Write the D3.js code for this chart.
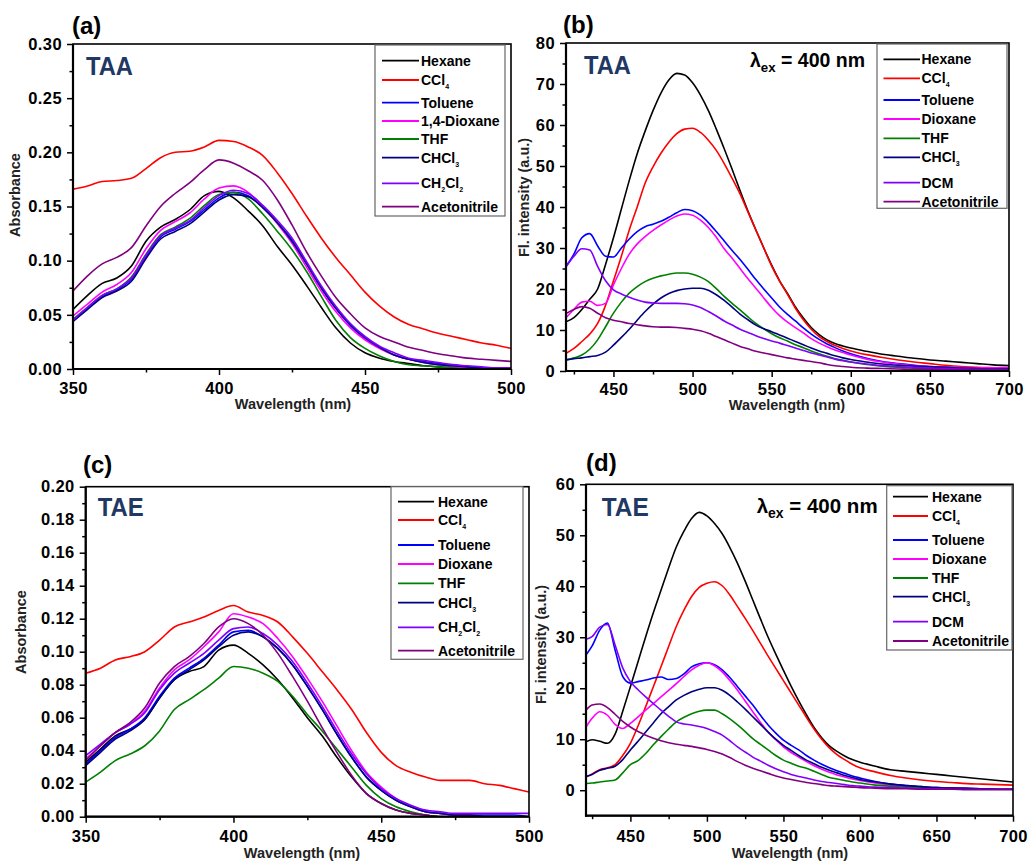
<!DOCTYPE html>
<html><head><meta charset="utf-8">
<script src="https://cdn.jsdelivr.net/npm/d3@7"></script>
<style>
body{margin:0;background:#fff;}
svg{display:block;font-family:"Liberation Sans",Arial,sans-serif;}
</style></head><body>
<svg id="chart" width="1030" height="863"></svg>
<script>
// ---------------- DATA ----------------
const wlAbs = [350,355,360,365,370,375,380,385,390,395,400,405,410,415,420,425,430,435,440,445,450,455,460,465,470,475,480,485,490,495,500];

const a_hexane  = [0.055,0.068,0.079,0.084,0.095,0.118,0.131,0.138,0.147,0.160,0.164,0.158,0.146,0.132,0.113,0.096,0.077,0.057,0.038,0.024,0.015,0.010,0.007,0.005,0.003,0.002,0.001,0.000,0.000,0.000,0.000];
const a_ccl4    = [0.166,0.169,0.173,0.174,0.176,0.185,0.195,0.200,0.201,0.205,0.211,0.210,0.205,0.197,0.181,0.162,0.141,0.121,0.103,0.087,0.071,0.058,0.048,0.041,0.037,0.033,0.030,0.027,0.024,0.022,0.019];
const a_toluene = [0.044,0.056,0.067,0.073,0.083,0.104,0.122,0.129,0.136,0.147,0.158,0.163,0.160,0.149,0.135,0.119,0.097,0.075,0.056,0.040,0.028,0.020,0.013,0.009,0.007,0.005,0.003,0.002,0.001,0.001,0.000];
const a_dioxane = [0.049,0.060,0.071,0.078,0.089,0.111,0.128,0.136,0.144,0.157,0.167,0.169,0.163,0.150,0.134,0.116,0.094,0.072,0.053,0.038,0.027,0.019,0.013,0.009,0.006,0.004,0.002,0.001,0.000,0.000,0.000];
const a_thf     = [0.046,0.057,0.068,0.074,0.085,0.106,0.124,0.131,0.139,0.151,0.161,0.163,0.157,0.143,0.127,0.110,0.090,0.067,0.045,0.029,0.019,0.012,0.007,0.004,0.003,0.002,0.001,0.000,0.000,0.000,0.000];
const a_chcl3   = [0.044,0.055,0.066,0.072,0.081,0.102,0.120,0.127,0.134,0.145,0.156,0.161,0.159,0.149,0.135,0.118,0.097,0.075,0.056,0.041,0.029,0.020,0.013,0.009,0.006,0.004,0.003,0.002,0.001,0.000,0.000];
const a_ch2cl2  = [0.045,0.057,0.068,0.074,0.084,0.105,0.123,0.130,0.137,0.149,0.160,0.165,0.162,0.151,0.137,0.121,0.099,0.077,0.058,0.042,0.030,0.021,0.015,0.010,0.008,0.006,0.004,0.003,0.002,0.001,0.001];
const a_acn     = [0.072,0.086,0.097,0.103,0.112,0.132,0.150,0.162,0.172,0.184,0.193,0.190,0.183,0.174,0.156,0.133,0.108,0.086,0.066,0.051,0.038,0.030,0.025,0.020,0.017,0.014,0.012,0.010,0.009,0.008,0.007];

const c_hexane  = [0.033,0.041,0.049,0.053,0.059,0.072,0.083,0.088,0.091,0.101,0.104,0.099,0.092,0.083,0.072,0.060,0.049,0.036,0.024,0.014,0.008,0.004,0.002,0.001,0.000,0.000,0.000,0.000,0.000,0.000,0.000];
const c_ccl4    = [0.087,0.090,0.095,0.097,0.100,0.107,0.115,0.118,0.121,0.125,0.128,0.124,0.122,0.118,0.109,0.099,0.088,0.077,0.065,0.051,0.039,0.031,0.027,0.024,0.022,0.022,0.022,0.020,0.019,0.017,0.015];
const c_toluene = [0.032,0.040,0.048,0.053,0.060,0.073,0.084,0.090,0.096,0.104,0.112,0.113,0.109,0.102,0.092,0.079,0.065,0.050,0.036,0.024,0.016,0.010,0.006,0.003,0.002,0.001,0.001,0.001,0.001,0.001,0.000];
const c_dioxane = [0.035,0.043,0.051,0.056,0.064,0.078,0.089,0.095,0.103,0.112,0.123,0.121,0.117,0.108,0.097,0.084,0.070,0.055,0.040,0.027,0.018,0.011,0.006,0.003,0.002,0.001,0.001,0.000,0.000,0.000,0.000];
const c_thf     = [0.021,0.027,0.034,0.038,0.043,0.052,0.065,0.071,0.077,0.084,0.091,0.090,0.087,0.082,0.073,0.062,0.052,0.041,0.030,0.019,0.011,0.006,0.003,0.001,0.000,0.000,0.000,0.000,0.000,0.000,0.000];
const c_chcl3   = [0.031,0.039,0.047,0.052,0.059,0.072,0.083,0.089,0.095,0.103,0.110,0.112,0.109,0.102,0.092,0.079,0.065,0.050,0.036,0.024,0.016,0.010,0.006,0.003,0.002,0.001,0.001,0.000,0.000,0.000,0.000];
const c_ch2cl2  = [0.037,0.044,0.051,0.056,0.063,0.077,0.087,0.093,0.099,0.107,0.114,0.115,0.111,0.104,0.094,0.081,0.067,0.052,0.038,0.026,0.017,0.011,0.007,0.004,0.003,0.002,0.002,0.002,0.002,0.002,0.002];
const c_acn     = [0.034,0.043,0.051,0.057,0.066,0.081,0.091,0.097,0.105,0.115,0.120,0.117,0.110,0.099,0.085,0.070,0.054,0.039,0.025,0.014,0.008,0.004,0.002,0.001,0.000,0.000,0.000,0.000,0.000,0.000,0.000];

const wlFlB = [420,425,430,435,440,445,450,455,460,465,470,475,480,485,490,495,500,505,510,515,520,525,530,535,540,545,550,555,560,565,570,575,580,585,590,595,600,610,620,630,640,650,660,670,680,690,700];
const b_hexane  = [12,13,15,17.5,20,26,32.5,39.5,46.5,53,58.5,63.5,67.8,71,72.6,72.2,70.3,67.3,63.5,59,54.2,49.2,44,39,34.4,30,25.8,22,18.9,15.6,12.9,10.6,8.9,7.6,6.7,6.1,5.6,4.8,4.1,3.6,3.1,2.7,2.4,2.1,1.8,1.5,1.3];
const b_ccl4    = [4.3,5.5,7.2,9,11.6,16,22,28,34.4,40,45.8,49.8,53.1,55.8,57.9,59,59.2,58.2,56.3,53.8,50.6,47,43.2,38.8,34.4,30,25.6,21.9,18.7,15.3,12.5,10.2,8.4,7.2,6.2,5.5,4.9,4.0,3.3,2.7,2.2,1.8,1.4,1.1,0.9,0.8,0.7];
const b_toluene = [25.5,28.5,32.5,33.5,30.5,28,27.8,30,32.2,34,35.2,35.8,36.5,37.5,38.6,39.4,39.1,38,36.2,34,31.7,29.4,27.2,24.8,22.3,20,17.8,15.6,13.8,12.2,10.5,9.0,7.7,6.6,5.7,4.9,4.2,3.1,2.3,1.8,1.4,1.1,0.9,0.7,0.6,0.5,0.5];
const b_dioxane = [13,15,16.8,17,16,16.5,21,25,28.5,31,32.8,34.3,35.6,36.8,37.8,38.3,38,36.8,35,32.6,29.8,27.5,25,22.5,20.2,17.8,15.5,13.5,11.9,10.6,9.3,7.9,6.8,5.9,5.1,4.5,3.9,2.9,2.2,1.7,1.3,1.1,1.0,0.9,0.8,0.8,0.8];
const b_thf     = [2.7,3.2,3.9,5.3,7.6,10.8,14.1,16.8,19,20.6,21.8,22.6,23.2,23.6,23.9,23.9,23.6,22.9,21.8,20.1,18.2,16.5,14.9,13.2,11.6,10.3,9.1,8.1,7.3,6.4,5.7,4.9,4.2,3.6,3.0,2.6,2.2,1.6,1.2,0.9,0.7,0.6,0.5,0.4,0.4,0.3,0.3];
const b_chcl3   = [2.7,3.0,3.2,3.5,3.8,4.6,6.3,8.2,10.2,12.4,14.5,16.3,17.8,18.9,19.6,20.0,20.2,20.2,19.7,18.6,17.2,15.6,13.9,12.5,11.2,10.3,9.6,8.8,8.0,7.2,6.4,5.6,4.9,4.3,3.7,3.2,2.8,2.2,1.7,1.4,1.2,1.0,0.9,0.7,0.6,0.5,0.5];
const b_dcm     = [25.4,28,29.8,29.5,25.5,22,19.8,18.8,18,17.3,16.8,16.6,16.5,16.5,16.5,16.4,16.1,15.5,14.5,13.4,12.2,11.2,10.2,9.4,8.6,7.9,7.3,6.8,6.2,5.6,5.0,4.4,3.9,3.4,2.9,2.5,2.2,1.7,1.3,1.1,0.9,0.7,0.6,0.5,0.4,0.4,0.3];
const b_acn     = [14,15,15.7,15.3,14.1,13,12.4,12,11.6,11.3,11,10.8,10.7,10.7,10.6,10.4,10.2,9.8,9.2,8.4,7.6,6.8,6.0,5.4,4.8,4.4,4.0,3.6,3.2,2.9,2.6,2.3,2.0,1.6,1.3,1.1,0.9,0.7,0.6,0.5,0.4,0.4,0.3,0.3,0.3,0.3,0.3];

const wlFlD = [421,425,430,435,440,445,450,455,460,465,470,475,480,485,490,495,500,505,510,515,520,525,530,535,540,545,550,555,560,565,570,575,580,585,590,595,600,610,620,630,640,650,660,670,680,690,700];
const d_hexane  = [9.5,9.9,9.6,9.2,11,15.5,20.3,25.2,30.1,34.8,39.2,43.6,47.7,50.8,53.3,54.5,53.8,52.3,50.3,47.6,44.5,41,37.3,33.6,30,26.7,23.5,20.4,17.5,14.8,12.3,10.3,8.7,7.6,6.7,6.0,5.5,4.7,4.0,3.7,3.4,3.1,2.8,2.5,2.2,1.9,1.6];
const d_ccl4    = [2.6,3.2,4.0,4.4,5.0,6.8,9.2,12.6,16.4,20.3,24.2,28.2,32.1,35.3,38,39.8,40.6,40.9,40.1,38.3,36,33.7,31.3,28.8,26.3,23.9,21.5,19.1,16.7,14.3,12.0,10.0,8.3,7.0,6.0,5.1,4.4,3.6,2.9,2.4,2.0,1.7,1.5,1.3,1.2,1.1,1.0];
const d_toluene = [26.5,28.3,31.4,32.8,27.5,22.3,21,21.3,21.6,22,22.2,21.7,21.9,22.8,24.2,24.8,25,24.6,23.6,22.1,20.3,18.5,16.7,14.7,12.8,11.2,9.8,8.8,7.9,6.8,5.9,5.1,4.4,3.8,3.3,2.8,2.4,1.7,1.2,0.9,0.7,0.5,0.4,0.3,0.3,0.3,0.3];
const d_dioxane = [12.4,14.1,15.4,14.7,12.9,12.1,13.1,14.4,15.7,17,18.3,19.6,20.9,22.3,23.6,24.5,25,24.4,23.2,21.5,19.6,17.5,15.4,13.3,11.4,9.9,8.5,7.4,6.5,5.6,4.8,4.1,3.5,3.0,2.6,2.2,1.9,1.4,1.0,0.8,0.6,0.5,0.4,0.3,0.3,0.3,0.3];
const d_thf     = [1.3,1.4,1.6,1.8,2.0,3.4,5.0,5.8,7.2,8.9,10.5,12.0,13.4,14.3,15.0,15.5,15.7,15.7,15.0,14.0,12.8,11.5,10.1,9.0,7.9,6.8,5.9,5.3,4.7,4.3,3.7,3.1,2.5,2.2,1.9,1.6,1.4,1.0,0.8,0.6,0.5,0.4,0.3,0.3,0.2,0.2,0.2];
const d_chcl3   = [2.7,3.1,3.9,4.3,4.7,6.0,7.9,9.6,11.4,13.2,15.0,16.4,17.7,18.6,19.3,19.8,20.1,20.1,19.6,18.6,17.3,15.9,14.4,12.9,11.4,10.0,8.8,7.8,6.8,5.9,5.2,4.5,3.9,3.4,2.9,2.5,2.1,1.6,1.2,0.9,0.7,0.5,0.4,0.4,0.3,0.2,0.2];
const d_dcm     = [29.6,30.1,32,32.5,28.5,24,21.3,19.7,18.3,17,15.7,14.5,13.4,13.0,12.8,12.5,12.1,11.5,10.8,9.7,8.5,7.5,6.5,5.7,4.9,4.2,3.6,3.1,2.7,2.4,2.0,1.7,1.5,1.3,1.1,0.9,0.8,0.6,0.5,0.4,0.3,0.3,0.2,0.2,0.2,0.2,0.2];
const d_acn     = [15.7,16.7,16.9,16.2,14.9,13.5,12.4,11.5,10.8,10.2,9.7,9.3,9.0,8.8,8.6,8.3,8.0,7.6,7.1,6.4,5.6,4.9,4.3,3.8,3.3,2.8,2.4,2.1,1.8,1.5,1.3,1.1,0.9,0.8,0.7,0.6,0.5,0.4,0.3,0.3,0.2,0.2,0.2,0.1,0.1,0.1,0.1];

const labelsA = ["Hexane","CCl_4","Toluene","1,4-Dioxane","THF","CHCl_3","CH_2Cl_2","Acetonitrile"];
const labelsC = ["Hexane","CCl_4","Toluene","Dioxane","THF","CHCl_3","CH_2Cl_2","Acetonitrile"];
const labelsFl = ["Hexane","CCl_4","Toluene","Dioxane","THF","CHCl_3","DCM","Acetonitrile"];

const absXTicks = [350,400,450,500], absXMinor = [375,425,475];
const aYTicks = [0,0.05,0.10,0.15,0.20,0.25,0.30], aYMinor = [0.025,0.075,0.125,0.175,0.225,0.275];
const cYTicks = [0,0.02,0.04,0.06,0.08,0.10,0.12,0.14,0.16,0.18,0.20];
const cYMinor = [0.01,0.03,0.05,0.07,0.09,0.11,0.13,0.15,0.17,0.19];
const flXTicks = [450,500,550,600,650,700], flXMinor = [425,475,525,575,625,675];
const bYTicks = [0,10,20,30,40,50,60,70,80], bYMinor = [5,15,25,35,45,55,65,75];
const dYTicks = [0,10,20,30,40,50,60], dYMinor = [5,15,25,35,45,55];

// ---------------- DRAW ----------------
const colors = ["#000000","#ff0000","#0000ff","#ff00ff","#008000","#000080","#8000ff","#800080"];
const svg = d3.select("#chart");
const NAVY = "#1f3864";

function addLabel(textSel, label, subSize, subDy){
  const parts = label.split(/_(\d)/);
  let prevSub = false;
  parts.forEach((p,i)=>{
    if(p==="") return;
    const isSub = i%2===1;
    const t = textSel.append("tspan").text(p);
    if(isSub){ t.attr("font-size",subSize).attr("dy",subDy); prevSub=true; }
    else { if(prevSub){ t.attr("dy",-subDy); } prevSub=false; }
  });
}

function panel(cfg, idx){
  const g = svg.append("g");
  const x = d3.scaleLinear().domain(cfg.xDom).range([cfg.left,cfg.right]);
  const y = d3.scaleLinear().domain(cfg.yDom).range([cfg.bottom,cfg.top]);
  const clipId = "clip"+idx;
  svg.append("clipPath").attr("id",clipId).append("rect")
    .attr("x",cfg.left).attr("y",cfg.top).attr("width",cfg.right-cfg.left).attr("height",cfg.bottom-cfg.top);

  const line = d3.line().x((d,i)=>x(cfg.wl[i])).y(d=>y(d)).curve(d3.curveMonotoneX);
  const lg = g.append("g").attr("clip-path",`url(#${clipId})`);
  cfg.series.forEach((s,i)=>{
    lg.append("path").attr("d",line(s)).attr("fill","none")
      .attr("stroke",colors[i]).attr("stroke-width",1.6).attr("stroke-linejoin","round");
  });

  const ax = g.append("g").attr("transform",`translate(0,${cfg.bottom})`)
    .call(d3.axisBottom(x).tickValues(cfg.xTicks).tickSize(6).tickPadding(cfg.xPad).tickFormat(d3.format("d")));
  const axm = g.append("g").attr("transform",`translate(0,${cfg.bottom})`)
    .call(d3.axisBottom(x).tickValues(cfg.xMinor).tickSize(3.5).tickFormat(""));
  const ay = g.append("g").attr("transform",`translate(${cfg.left},0)`)
    .call(d3.axisLeft(y).tickValues(cfg.yTicks).tickSize(6).tickPadding(5).tickFormat(d3.format(cfg.fmt)));
  const aym = g.append("g").attr("transform",`translate(${cfg.left},0)`)
    .call(d3.axisLeft(y).tickValues(cfg.yMinor).tickSize(3.5).tickFormat(""));
  [ax,axm,ay,aym].forEach(a=>{
    a.select(".domain").remove();
    a.selectAll("line").attr("stroke","#000").attr("stroke-width",1.5);
    a.selectAll("text").attr("font-size",16.5).attr("font-weight","bold").attr("fill","#000")
      .attr("font-family","'Liberation Sans',Arial,sans-serif").attr("letter-spacing","0.4px");
  });

  g.append("rect").attr("x",cfg.left).attr("y",cfg.top).attr("width",cfg.right-cfg.left).attr("height",cfg.bottom-cfg.top)
    .attr("fill","none").attr("stroke","#000").attr("stroke-width",1.6);
  g.append("line").attr("x1",cfg.left).attr("x2",cfg.left).attr("y1",cfg.top).attr("y2",cfg.bottom+1)
    .attr("stroke","#000").attr("stroke-width",2.2);
  g.append("line").attr("x1",cfg.left-1).attr("x2",cfg.right).attr("y1",cfg.bottom).attr("y2",cfg.bottom)
    .attr("stroke","#000").attr("stroke-width",2.2);

  g.append("text").attr("x",cfg.xTitle[0]).attr("y",cfg.xTitle[1]).attr("text-anchor","middle")
    .attr("font-size",14.5).attr("font-weight","bold").attr("fill","#222").text("Wavelength (nm)");
  g.append("text").attr("transform",`translate(${cfg.yTitle[0]},${cfg.yTitle[1]}) rotate(-90)`).attr("text-anchor","middle")
    .attr("font-size",14.5).attr("font-weight","bold").attr("fill","#222").text(cfg.yTitleText);

  g.append("text").attr("x",cfg.letter[0]).attr("y",cfg.letter[1]).attr("font-size",24).attr("font-weight","bold")
    .attr("fill","#000").text(cfg.letterText);
  g.append("text").attr("x",cfg.sample[0]).attr("y",cfg.sample[1]).attr("font-size",25).attr("font-weight","bold")
    .attr("fill",NAVY).attr("textLength",cfg.sample[2]).attr("lengthAdjust","spacingAndGlyphs").text(cfg.sampleText);
  if(cfg.lambda){
    const t = g.append("text").attr("x",cfg.lambda[0]).attr("y",cfg.lambda[1]).attr("font-size",cfg.lambda[2])
      .attr("font-weight","bold").attr("fill","#000");
    t.append("tspan").text("λ");
    t.append("tspan").attr("font-size",cfg.lambda[2]*0.68).attr("dy",5).text("ex");
    t.append("tspan").attr("dy",-5).text(" = 400 nm");
  }

  const L = cfg.legend;
  const lgd = g.append("g").attr("transform",`translate(${L.x},${L.y})`);
  lgd.append("rect").attr("width",L.w).attr("height",L.h).attr("fill","#fff").attr("stroke","#666").attr("stroke-width",1.2);
  cfg.labels.forEach((lab,i)=>{
    const ry = L.rows[i];
    lgd.append("line").attr("x1",L.l0).attr("x2",L.l1).attr("y1",ry).attr("y2",ry)
      .attr("stroke",colors[i]).attr("stroke-width",1.8);
    const t = lgd.append("text").attr("x",L.tx).attr("y",ry+5).attr("font-size",14).attr("font-weight","bold").attr("fill","#000");
    addLabel(t, lab, 7, 4);
  });
}

const panels = [
  {left:73,right:511,top:44,bottom:369,xDom:[350,500],yDom:[0,0.30],xTicks:absXTicks,xMinor:absXMinor,
   yTicks:aYTicks,yMinor:aYMinor,fmt:".2f",xPad:7.5,wl:wlAbs,
   series:[a_hexane,a_ccl4,a_toluene,a_dioxane,a_thf,a_chcl3,a_ch2cl2,a_acn],labels:labelsA,
   letter:[72,34],letterText:"(a)",sample:[86,75,47],sampleText:"TAA",lambda:null,
   legend:{x:375,y:45,w:130,h:171,rows:[15.7,35,57.7,76,94,112.7,138.3,161.7],l0:7,l1:44,tx:46},
   xTitle:[293,409],yTitle:[20,195],yTitleText:"Absorbance"},
  {left:566,right:1009,top:43,bottom:371,xDom:[420,700],yDom:[0,80],xTicks:flXTicks,xMinor:flXMinor,
   yTicks:bYTicks,yMinor:bYMinor,fmt:"d",xPad:6.5,wl:wlFlB,
   series:[b_hexane,b_ccl4,b_toluene,b_dioxane,b_thf,b_chcl3,b_dcm,b_acn],labels:labelsFl,
   letter:[563,33],letterText:"(b)",sample:[584,74,47],sampleText:"TAA",lambda:[750,67,19.5],
   legend:{x:877,y:44,w:130,h:164.3,rows:[15.3,34.3,56,75,94.3,113.3,138.7,157.7],l0:6.5,l1:43,tx:44.5},
   xTitle:[787,410],yTitle:[529,197.5],yTitleText:"Fl. intensity (a.u.)"},
  {left:85.7,right:529,top:486.7,bottom:816.7,xDom:[350,500],yDom:[0,0.20],xTicks:absXTicks,xMinor:absXMinor,
   yTicks:cYTicks,yMinor:cYMinor,fmt:".2f",xPad:7.5,wl:wlAbs,
   series:[c_hexane,c_ccl4,c_toluene,c_dioxane,c_thf,c_chcl3,c_ch2cl2,c_acn],labels:labelsC,
   letter:[83,473],letterText:"(c)",sample:[97.7,516,46],sampleText:"TAE",lambda:null,
   legend:{x:391,y:486.7,w:132,h:172.6,rows:[15,33.3,58.3,77.3,96.6,116,140.6,164],l0:7,l1:43,tx:47},
   xTitle:[302,858],yTitle:[26,632],yTitleText:"Absorbance"},
  {left:586,right:1013,top:484.3,bottom:815.7,xDom:[421,700],yDom:[-5,60],xTicks:flXTicks,xMinor:flXMinor,
   yTicks:dYTicks,yMinor:dYMinor,fmt:"d",xPad:8.5,wl:wlFlD,
   series:[d_hexane,d_ccl4,d_toluene,d_dioxane,d_thf,d_chcl3,d_dcm,d_acn],labels:labelsFl,
   letter:[586,471],letterText:"(d)",sample:[601.7,516,47],sampleText:"TAE",lambda:[756.7,513.3,20.5],
   legend:{x:886.7,y:485.7,w:125.3,h:164.3,rows:[11,30.3,54.3,73.3,92.3,111,136,155.3],l0:6.3,l1:41.3,tx:45.3},
   xTitle:[790,858],yTitle:[546,644.5],yTitleText:"Fl. intensity (a.u.)"}
];
panels.forEach((p,i)=>panel(p,i));
</script></body></html>
